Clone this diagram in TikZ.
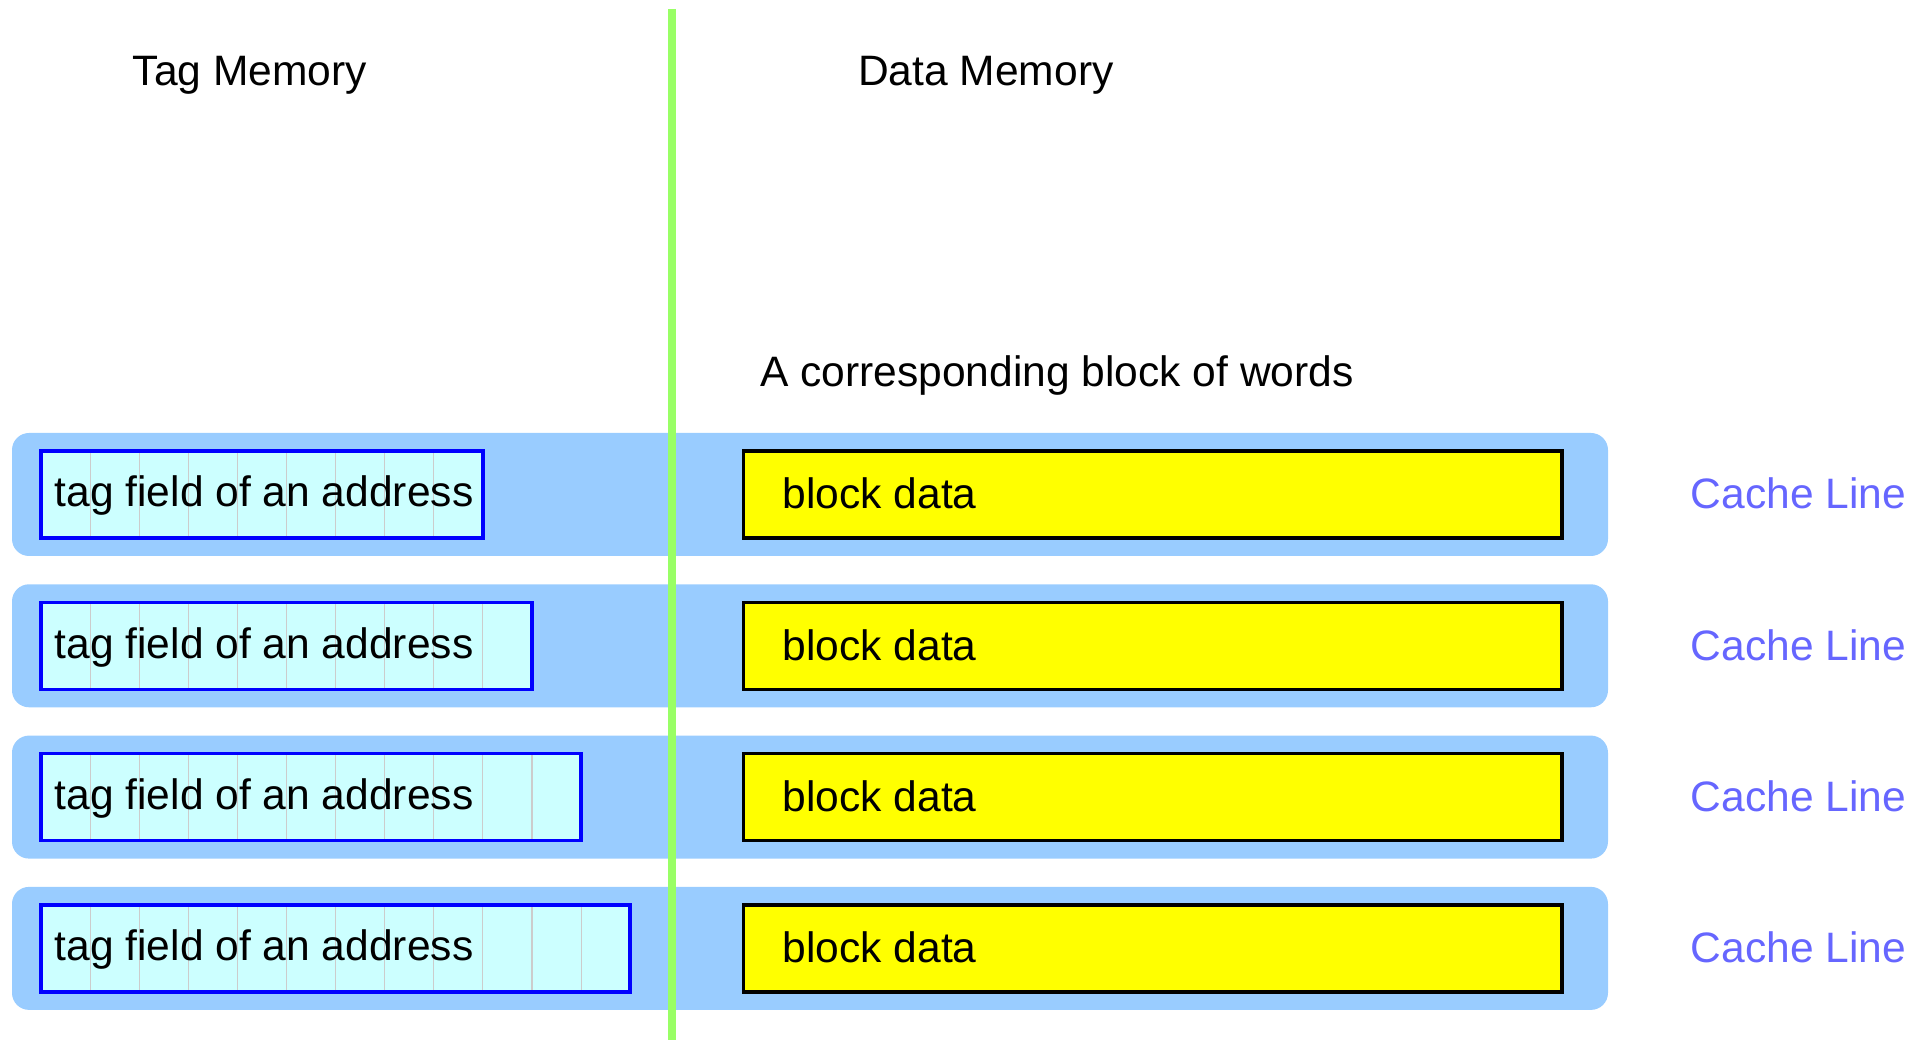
\documentclass[tikz,border=0pt]{standalone}
\usepackage{fontspec}
\setmainfont{Liberation Sans}
\definecolor{bandblue}{HTML}{99CCFF}
\definecolor{tagfill}{HTML}{CCFFFF}
\definecolor{tagdraw}{HTML}{0000FF}
\definecolor{divgreen}{HTML}{99FF66}
\definecolor{cellgray}{HTML}{CCCCCC}
\definecolor{linecol}{HTML}{6666FF}
\definecolor{blockyellow}{RGB}{255,255,0}
\begin{document}
\begin{tikzpicture}[x=0.01cm,y=-0.01cm,
  txt/.style={inner sep=0pt,anchor=base west,font=\fontsize{12.1pt}{14pt}\selectfont},
  band/.style={fill=bandblue,rounded corners=0.17cm},
  tagbox/.style={draw=tagdraw,line width=1pt},
  blockbox/.style={draw=black,fill=blockyellow,line width=1pt},
  cellline/.style={draw=cellgray,line width=0.3pt},
  sep/.style={draw=divgreen,line width=2.1pt}]
\useasboundingbox (0,0) rectangle (1929,1040);
\node[txt] (tagmem) at (132,86) {Tag Memory};
\node[txt] (datamem) at (857.5,86) {Data Memory};
\node[txt] (corr) at (759.5,386.7) {A corresponding block of words};
\foreach \r/\n in {0/9,1/10,2/11,3/12}{
  \pgfmathsetmacro{\t}{433+\r*151.3}
  \pgfmathsetmacro{\bx}{41+\n*49.1}
  \path[band] (12,\t) rectangle (1608,\t+123);
  \fill[tagfill] (41,\t+18) rectangle (\bx,\t+105);
  \foreach \k in {1,...,\n}{
    \ifnum\k<\n
      \path[cellline] (41+\k*49.1,\t+18) -- (41+\k*49.1,\t+105);
    \fi
  }
  \path[tagbox] (41,\t+18) rectangle (\bx,\t+105);
  \path[blockbox] (743.5,\t+18) rectangle (1562,\t+105);
  \node[txt] (tag\r) at (54,\t+74) {tag field of an address};
  \node[txt] (blk\r) at (782,\t+76) {block data};
  \node[txt,text=linecol] (cl\r) at (1690,\t+76) {Cache Line};
}
\coordinate (gtop) at (672,9);
\coordinate (gbot) at (672,1040);
\path[sep] (gtop) -- (gbot);
\end{tikzpicture}
\end{document}
